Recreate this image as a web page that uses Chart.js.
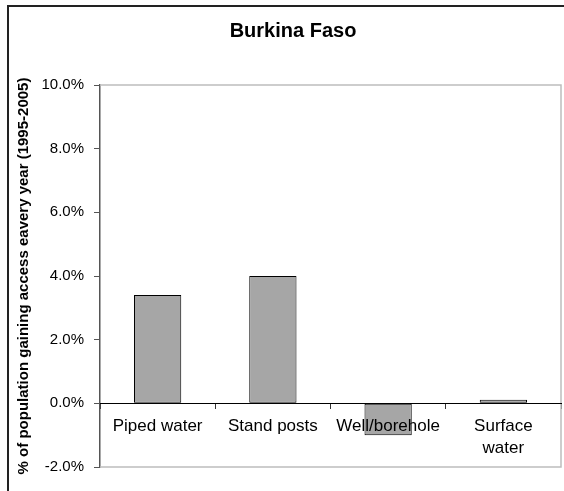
<!DOCTYPE html>
<html>
<head>
<meta charset="utf-8">
<script src="https://cdn.jsdelivr.net/npm/chart.js@4.4.0/dist/chart.umd.min.js"></script>
<style>
  html, body { margin: 0; padding: 0; background: #ffffff; }
  #wrap { position: relative; width: 564px; height: 491px; }
</style>
</head>
<body>
<div id="wrap"><canvas id="chart" width="564" height="491"></canvas></div>
<script>
// Water source categories (multi-line labels are arrays)
const categories = ['Piped water', 'Stand posts', 'Well/borehole', ['Surface', 'water']];
// Annual change in access, percent of population per year
const accessGain = [3.4, 4.0, -1.0, 0.11];
// Y axis range and step, in percent
const yMin = -2;
const yMax = 10;
const yStep = 2;

const chartTitle = 'Burkina Faso';
const yTitle = '% of population gaining access eavery year (1995-2005)';

const FONT = 'Arial, "Liberation Sans", sans-serif';

// Chart heading, plot-area frame (top, right, bottom in light gray) and outer frame
const decorations = {
  id: 'decorations',
  beforeDatasetsDraw(chart) {
    const { ctx, chartArea: a } = chart;
    ctx.save();
    ctx.strokeStyle = '#bdbdbd';
    ctx.lineWidth = 1.5;
    ctx.beginPath();
    ctx.moveTo(a.left, a.top);
    ctx.lineTo(a.right, a.top);
    ctx.lineTo(a.right, a.bottom);
    ctx.lineTo(a.left, a.bottom);
    ctx.stroke();
    ctx.restore();
  },
  afterDraw(chart) {
    const { ctx } = chart;
    ctx.save();
    ctx.fillStyle = '#000000';
    ctx.font = 'bold 20px ' + FONT;
    ctx.textAlign = 'center';
    ctx.textBaseline = 'middle';
    ctx.fillText(chartTitle, 293, 31);

    ctx.strokeStyle = '#222222';
    ctx.lineWidth = 2;
    ctx.beginPath();
    ctx.moveTo(8, chart.height);
    ctx.lineTo(8, 6);
    ctx.lineTo(chart.width, 6);
    ctx.stroke();
    ctx.restore();
  }
};

new Chart(document.getElementById('chart'), {
  type: 'bar',
  data: {
    labels: categories,
    datasets: [{
      data: accessGain,
      backgroundColor: '#a6a6a6',
      borderColor: '#000000',
      borderWidth: 1,
      borderSkipped: false,
      categoryPercentage: 1.0,
      barPercentage: 0.41
    }]
  },
  options: {
    responsive: false,
    animation: false,
    layout: { padding: { left: 8, top: 85, right: 3, bottom: 24 } },
    plugins: {
      legend: { display: false },
      tooltip: { enabled: false },
      title: { display: false }
    },
    scales: {
      x: {
        position: { y: 0 },
        grid: {
          display: true,
          drawOnChartArea: false,
          drawTicks: true,
          tickLength: 5,
          tickColor: '#333333',
          offset: true
        },
        border: { display: true, color: '#000000', width: 1, z: 1 },
        ticks: {
          z: 1,
          color: '#000000',
          font: { family: FONT, size: 17, lineHeight: 1.3 },
          padding: 7,
          maxRotation: 0,
          minRotation: 0,
          autoSkip: false
        }
      },
      y: {
        min: yMin,
        max: yMax,
        afterFit(scale) { scale.width = 92; },
        grid: {
          display: true,
          drawOnChartArea: false,
          drawTicks: true,
          tickLength: 6,
          tickColor: '#555555'
        },
        border: { display: true, color: '#555555', width: 1.5 },
        ticks: {
          stepSize: yStep,
          color: '#000000',
          font: { family: FONT, size: 15 },
          padding: 10,
          callback: (v) => v.toFixed(1) + '%'
        },
        title: {
          display: true,
          text: yTitle,
          color: '#000000',
          font: { family: FONT, size: 15, weight: 'bold', lineHeight: 1.2 },
          padding: { top: 7, bottom: 4 }
        }
      }
    }
  },
  plugins: [decorations]
});
</script>
</body>
</html>
